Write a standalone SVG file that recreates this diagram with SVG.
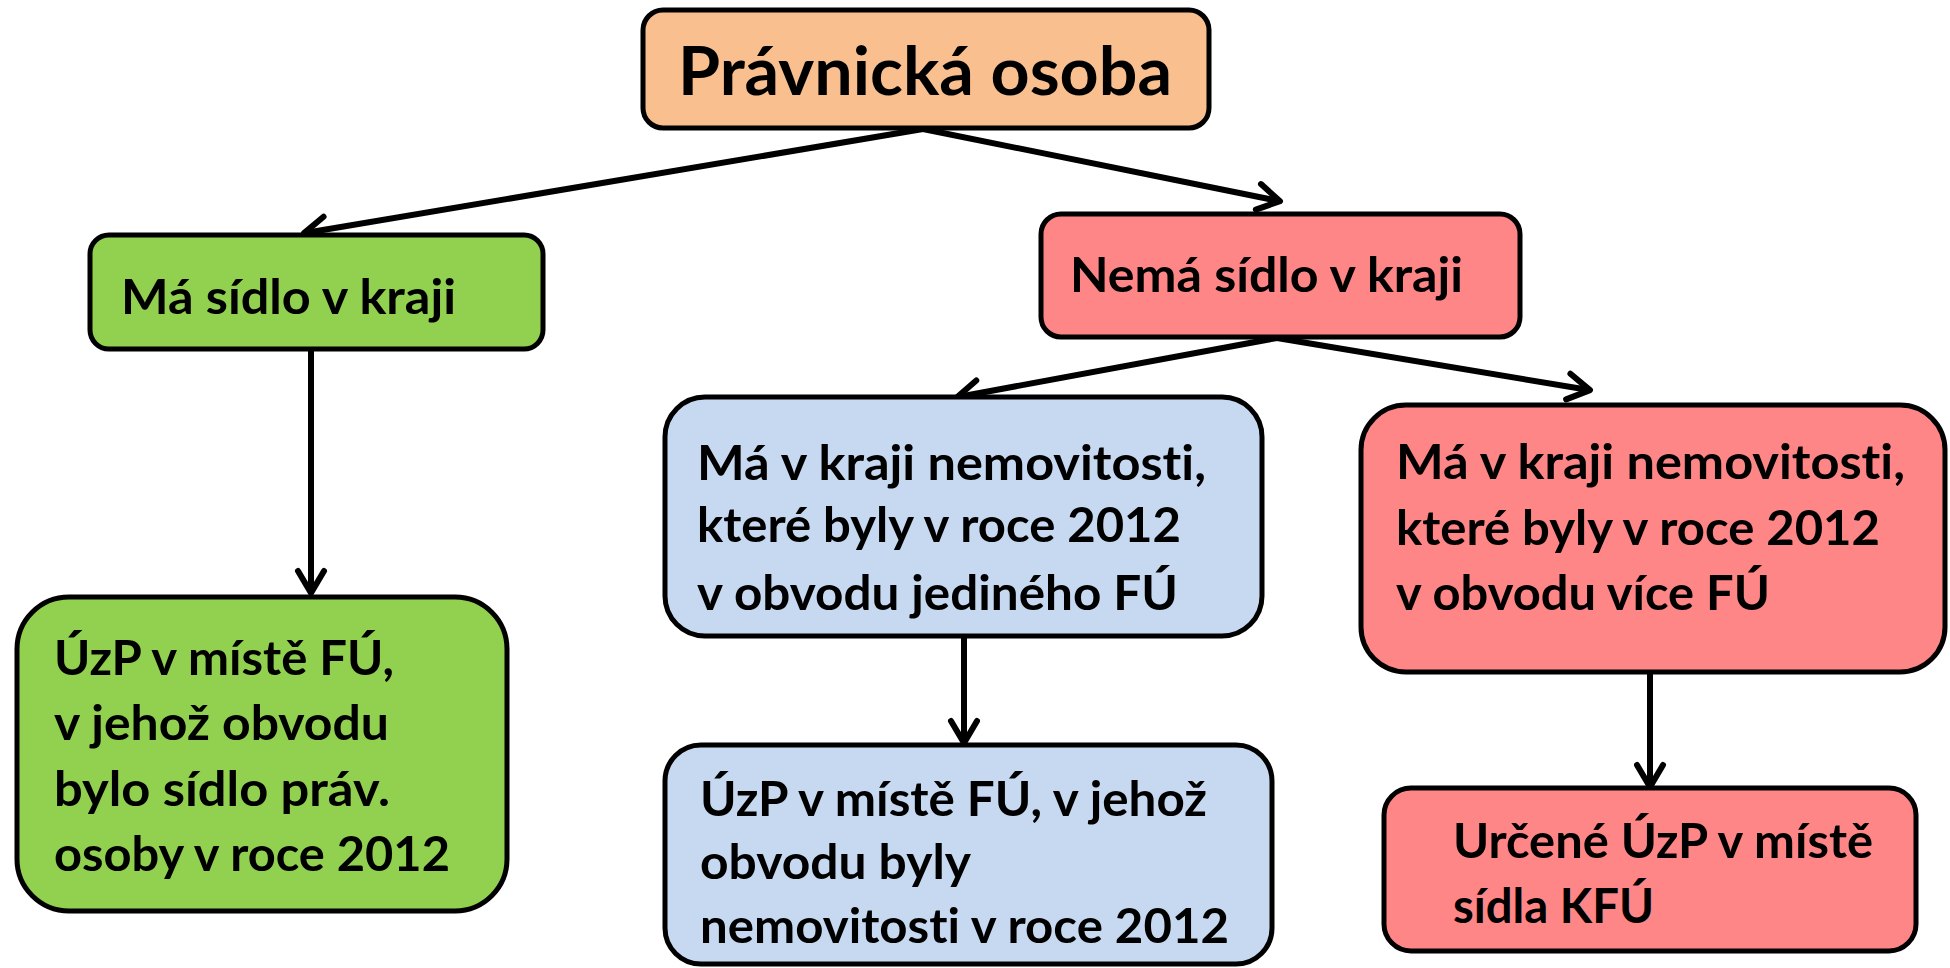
<svg xmlns="http://www.w3.org/2000/svg" width="1950" height="968" viewBox="0 0 1950 968">
<style>
.box{stroke:#000;stroke-width:5}
.t{font-family:Lato,"Open Sans","Noto Sans",sans-serif;font-weight:700;font-size:48px;fill:#000;font-variant-ligatures:none;font-feature-settings:"liga" 0,"dlig" 0}
.big{font-size:66px}
.c{fill:none;stroke:#000;stroke-width:6}
.orange{fill:#F9BF8F}.green{fill:#92D050}.red{fill:#FF8686}.blue{fill:#C6D9F1}
</style>
<defs>
<marker id="arr" markerUnits="userSpaceOnUse" viewBox="0 0 40 40" markerWidth="40" markerHeight="40" refX="33" refY="20" orient="auto">
<path d="M12,7 L34,20 L12,33" fill="none" stroke="#000" stroke-width="6" stroke-linecap="round" stroke-linejoin="round"/>
</marker>
</defs>
<rect width="1950" height="968" fill="#fff"/>
<g id="connectors">
<line class="c" x1="923" y1="129" x2="305" y2="233" marker-end="url(#arr)"/>
<line class="c" x1="923" y1="129" x2="1279" y2="201" marker-end="url(#arr)"/>
<line class="c" x1="311" y1="350" x2="311" y2="592" marker-end="url(#arr)"/>
<line class="c" x1="1277" y1="338" x2="958" y2="397" marker-end="url(#arr)"/>
<line class="c" x1="1277" y1="338" x2="1589" y2="390" marker-end="url(#arr)"/>
<line class="c" x1="964" y1="637" x2="964" y2="742" marker-end="url(#arr)"/>
<line class="c" x1="1650" y1="673" x2="1650" y2="786" marker-end="url(#arr)"/>
</g>
<g id="pravnicka">
<rect class="box orange" x="643" y="10" width="566" height="118" rx="20"/>
<text class="t big" x="678" y="95" textLength="494" lengthAdjust="spacingAndGlyphs">Právnická osoba</text>
</g>
<g id="ma-sidlo">
<rect class="box green" x="90" y="235" width="453" height="114" rx="19"/>
<text class="t" x="121" y="314" textLength="335" lengthAdjust="spacingAndGlyphs">Má sídlo v kraji</text>
</g>
<g id="nema-sidlo">
<rect class="box red" x="1041" y="214" width="479" height="123" rx="20"/>
<text class="t" x="1070" y="292" textLength="393" lengthAdjust="spacingAndGlyphs">Nemá sídlo v kraji</text>
</g>
<g id="jediny-fu">
<rect class="box blue" x="665" y="397" width="597" height="239" rx="40"/>
<text class="t" x="697" y="480" textLength="509" lengthAdjust="spacingAndGlyphs">Má v kraji nemovitosti,</text>
<text class="t" x="697" y="542" textLength="484" lengthAdjust="spacingAndGlyphs">které byly v roce 2012</text>
<text class="t" x="697" y="610" textLength="481" lengthAdjust="spacingAndGlyphs">v obvodu jediného FÚ</text>
</g>
<g id="vice-fu">
<rect class="box red" x="1361" y="405" width="584" height="267" rx="45"/>
<text class="t" x="1396" y="479" textLength="509" lengthAdjust="spacingAndGlyphs">Má v kraji nemovitosti,</text>
<text class="t" x="1396" y="545" textLength="484" lengthAdjust="spacingAndGlyphs">které byly v roce 2012</text>
<text class="t" x="1396" y="610" textLength="374" lengthAdjust="spacingAndGlyphs">v obvodu více FÚ</text>
</g>
<g id="uzp-sidlo">
<rect class="box green" x="17" y="597" width="490" height="314" rx="52"/>
<text class="t" x="54" y="675" textLength="340" lengthAdjust="spacingAndGlyphs">ÚzP v místě FÚ,</text>
<text class="t" x="54" y="740" textLength="335" lengthAdjust="spacingAndGlyphs">v jehož obvodu</text>
<text class="t" x="54" y="806" textLength="336" lengthAdjust="spacingAndGlyphs">bylo sídlo práv.</text>
<text class="t" x="54" y="871" textLength="396" lengthAdjust="spacingAndGlyphs">osoby v roce 2012</text>
</g>
<g id="uzp-nemovitosti">
<rect class="box blue" x="665" y="745" width="607" height="219" rx="36"/>
<text class="t" x="700" y="816" textLength="507" lengthAdjust="spacingAndGlyphs">ÚzP v místě FÚ, v jehož</text>
<text class="t" x="700" y="879" textLength="271" lengthAdjust="spacingAndGlyphs">obvodu byly</text>
<text class="t" x="700" y="943" textLength="529" lengthAdjust="spacingAndGlyphs">nemovitosti v roce 2012</text>
</g>
<g id="urcene-uzp">
<rect class="box red" x="1384" y="788" width="532" height="163" rx="27"/>
<text class="t" x="1453" y="858" textLength="420" lengthAdjust="spacingAndGlyphs">Určené ÚzP v místě</text>
<text class="t" x="1453" y="923" textLength="201" lengthAdjust="spacingAndGlyphs">sídla KFÚ</text>
</g>
</svg>
